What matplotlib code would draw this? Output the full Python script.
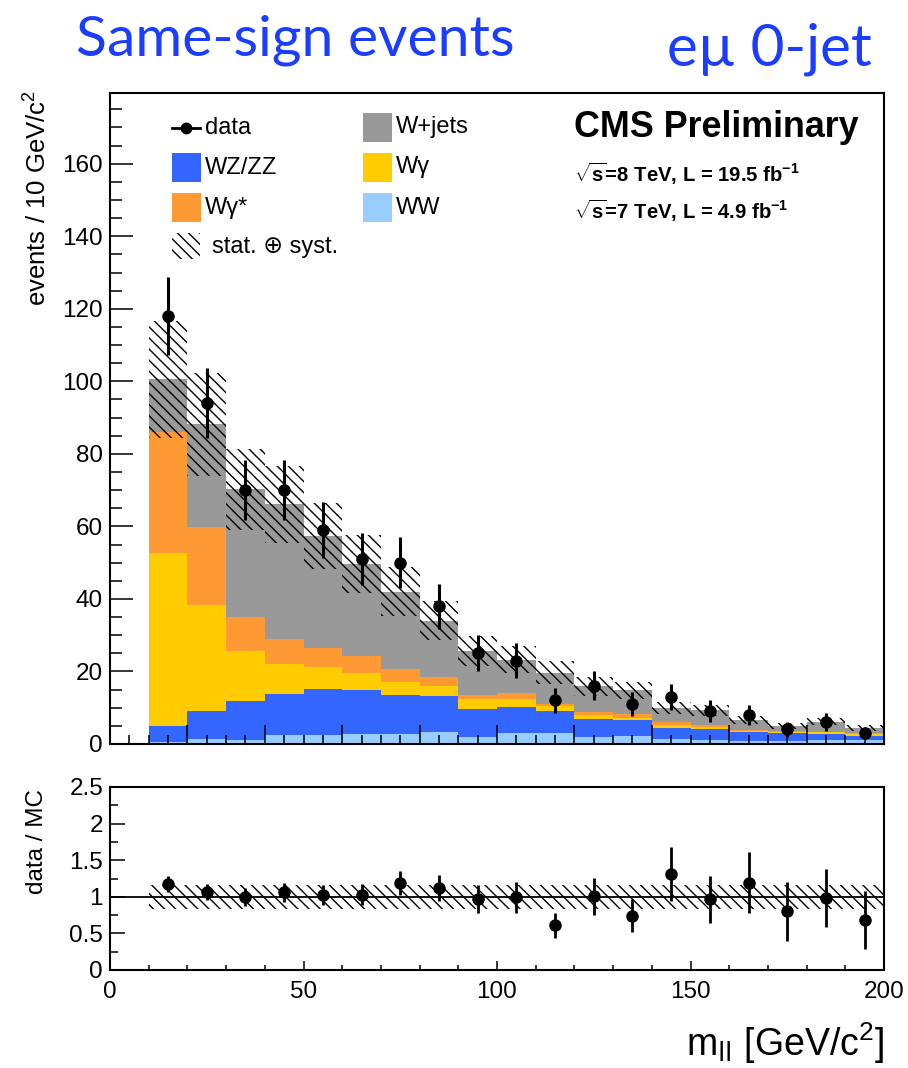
import numpy as np
import matplotlib
matplotlib.use("Agg")
import matplotlib.pyplot as plt
from matplotlib.patches import Rectangle
from matplotlib.lines import Line2D
from matplotlib.ticker import MultipleLocator, FuncFormatter

# ---- binning (m_ll, GeV/c^2) ----
bin_edges = [10, 20, 30, 40, 50, 60, 70, 80, 90, 100, 110,
             120, 130, 140, 150, 160, 170, 180, 190, 200]

# ---- observed events per bin ----
data = [118, 94, 70, 70, 59, 51, 50, 38, 25, 23, 12, 16, 11, 13, 9, 8, 4, 6, 3]

# ---- background predictions per bin (stack order bottom -> top) ----
ww = [0.5, 1.4, 1.2, 2.4, 2.4, 2.8, 2.8, 3.3, 2.0, 3.0,
      3.0, 1.8, 2.1, 1.4, 1.0, 0.7, 0.7, 1.0, 1.0]
wz_zz = [4.6, 7.8, 10.7, 11.5, 12.8, 12.2, 10.8, 9.8, 7.7, 7.2,
         6.2, 5.1, 4.4, 3.0, 3.0, 2.5, 2.3, 1.8, 1.3]
wgamma = [47.7, 29.0, 13.8, 8.2, 5.9, 4.6, 3.6, 2.8, 2.6, 2.3,
          1.2, 1.1, 0.8, 0.9, 0.6, 0.5, 0.4, 0.4, 0.5]
wgammastar = [33.3, 21.7, 9.2, 6.9, 5.4, 4.7, 3.5, 2.7, 1.1, 1.5,
              0.7, 0.9, 1.0, 0.8, 0.6, 0.2, 0.2, 0.2, 0.2]
wjets = [14.5, 28.2, 35.3, 37.1, 30.9, 25.3, 21.3, 15.4, 12.3, 9.2,
         8.6, 7.0, 6.5, 3.8, 4.1, 2.8, 1.4, 2.7, 1.4]

# relative stat. (+) syst. uncertainty on the total prediction
rel_unc = [0.16, 0.16, 0.16, 0.16, 0.16, 0.16, 0.16, 0.16, 0.16, 0.16,
           0.16, 0.16, 0.16, 0.16, 0.16, 0.16, 0.16, 0.16, 0.16]

components = [
    ("WW", ww, "#99ccff"),
    ("WZ/ZZ", wz_zz, "#3366ff"),
    ("W\u03b3", wgamma, "#ffcc00"),
    ("W\u03b3*", wgammastar, "#ff9933"),
    ("W+jets", wjets, "#999999"),
]

plt.rcParams["font.family"] = ["Liberation Sans", "DejaVu Sans"]
plt.rcParams["mathtext.fontset"] = "custom"
plt.rcParams["mathtext.rm"] = "Liberation Sans"
plt.rcParams["mathtext.it"] = "Liberation Sans:italic"
plt.rcParams["mathtext.bf"] = "Liberation Sans:bold"
plt.rcParams["mathtext.default"] = "regular"
plt.rcParams["hatch.linewidth"] = 1.0

HATCH = "\\\\\\"

W, H = 908, 1068
fig = plt.figure(figsize=(W / 100, H / 100), dpi=100)


def fx(px):
    return px / W


def fy(py):
    return 1 - py / H


ax = fig.add_axes([fx(110), fy(744), fx(884) - fx(110), fy(93) - fy(744)])
rax = fig.add_axes([fx(110), fy(970), fx(884) - fx(110), fy(787) - fy(970)])

edges = np.array(bin_edges, dtype=float)
centers = 0.5 * (edges[:-1] + edges[1:])
data_arr = np.array(data, dtype=float)

# stacked backgrounds
bottom = np.zeros(len(data))
for name, vals, col in components:
    top = bottom + np.array(vals)
    ax.stairs(top, edges, baseline=bottom, fill=True, color=col, lw=0)
    bottom = top
total = bottom

# uncertainty band
unc = total * np.array(rel_unc)
ax.stairs(total + unc, edges, baseline=total - unc, fill=True,
          facecolor="none", edgecolor="black", hatch=HATCH, lw=0)

# data
ax.errorbar(centers, data_arr, yerr=np.sqrt(data_arr), fmt="o", color="black",
            ms=8, elinewidth=2.2, capsize=0, zorder=5)

ax.set_xlim(0, 200)
ax.set_ylim(0, 179.5)
ax.xaxis.set_major_locator(MultipleLocator(20))
ax.xaxis.set_minor_locator(MultipleLocator(5))
ax.yaxis.set_major_locator(MultipleLocator(20))
ax.yaxis.set_minor_locator(MultipleLocator(5))
ax.tick_params(axis="x", which="major", direction="in", length=13.5, width=1.1,
               labelbottom=False)
ax.tick_params(axis="x", which="minor", direction="in", length=6.5, width=1.1)
ax.tick_params(axis="y", which="major", direction="in", length=16.5, width=1.1,
               labelsize=17.5, pad=5)
ax.tick_params(axis="y", which="minor", direction="in", length=8.5, width=1.1)
for sp in ax.spines.values():
    sp.set_linewidth(1.5)

# ratio panel
ratio = data_arr / total
ratio_err = np.sqrt(data_arr) / total
rel = np.array(rel_unc)
rax.stairs(1 + rel, edges, baseline=1 - rel, fill=True,
           facecolor="none", edgecolor="black", hatch=HATCH, lw=0)
rax.axhline(1.0, color="black", lw=1.3)
rax.errorbar(centers, ratio, yerr=ratio_err, fmt="o", color="black",
             ms=8, elinewidth=2.0, capsize=0, zorder=5)
rax.set_xlim(0, 200)
rax.set_ylim(0, 2.5)
rax.xaxis.set_major_locator(MultipleLocator(50))
rax.xaxis.set_minor_locator(MultipleLocator(10))
rax.yaxis.set_major_locator(MultipleLocator(0.5))
rax.yaxis.set_minor_locator(MultipleLocator(0.25))
rax.yaxis.set_major_formatter(FuncFormatter(lambda v, p: f"{v:g}"))
rax.tick_params(axis="x", which="major", direction="in", length=6.5, width=1.1,
                labelsize=17.5, pad=8)
rax.tick_params(axis="x", which="minor", direction="in", length=3.5, width=1.1)
rax.tick_params(axis="y", which="major", direction="in", length=11, width=1.1,
                labelsize=17.5, pad=5)
rax.tick_params(axis="y", which="minor", direction="in", length=6, width=1.1)
for sp in rax.spines.values():
    sp.set_linewidth(1.5)

# axis titles
fig.text(fx(38), fy(90), "events / 10 GeV/c$^{2}$", rotation=90,
         ha="center", va="top", fontsize=18.5)
fig.text(fx(37), fy(789), "data / MC", rotation=90,
         ha="center", va="top", fontsize=17.5)
fig.text(fx(884), fy(1056), "m$_{\\mathsf{ll}}$ [GeV/c$^{2}$]",
         ha="right", va="baseline", fontsize=27)

# headline
fig.text(fx(76), fy(56), "Same-sign events", color="#1b3dff",
         family=["Lato", "DejaVu Sans"], fontsize=41, va="baseline", ha="left")
fig.text(fx(872), fy(66), "e\u00b5 0-jet", color="#1b3dff",
         family=["Lato", "DejaVu Sans"], fontsize=42, va="baseline", ha="right")

# CMS label and luminosity
fig.text(fx(574), fy(137), "CMS Preliminary", fontsize=25.8, fontweight="bold",
         va="baseline", ha="left")
fig.text(fx(574), fy(182), "$\\sqrt{s}$=8 TeV, L = 19.5 fb$^{-1}$",
         fontsize=14.6, fontweight="bold", va="baseline", ha="left")
fig.text(fx(574), fy(219), "$\\sqrt{s}$=7 TeV, L = 4.9 fb$^{-1}$",
         fontsize=14.6, fontweight="bold", va="baseline", ha="left")

# legend
leg_fs = 17
line = Line2D([fx(172), fx(186), fx(200)], [fy(128)] * 3, transform=fig.transFigure,
              color="black", lw=2, marker="o", ms=7.5, markevery=[1])
fig.add_artist(line)
fig.text(fx(205), fy(128), "data", fontsize=leg_fs, va="center", ha="left")

legend_boxes = [
    ("WZ/ZZ", "#3366ff", 172, 167.5),
    ("W\u03b3*", "#ff9933", 172, 207.5),
    ("W+jets", "#999999", 363, 127.5),
    ("W\u03b3", "#ffcc00", 363, 167.5),
    ("WW", "#99ccff", 363, 207.5),
]
for lab, col, x0, yc in legend_boxes:
    r = Rectangle((fx(x0), fy(yc + 14.5)), fx(29), 29 / H, transform=fig.transFigure,
                  facecolor=col, edgecolor="none")
    fig.add_artist(r)
    fig.text(fx(x0 + 33), fy(yc), lab, fontsize=leg_fs, va="center", ha="left")

hr = Rectangle((fx(172), fy(259)), fx(28), 26 / H, transform=fig.transFigure,
               facecolor="none", edgecolor="black", hatch=HATCH, lw=0)
fig.add_artist(hr)
fig.text(fx(212), fy(247), "stat. \u2295 syst.", fontsize=leg_fs, va="center", ha="left")

fig.savefig("out.png", dpi=100)
